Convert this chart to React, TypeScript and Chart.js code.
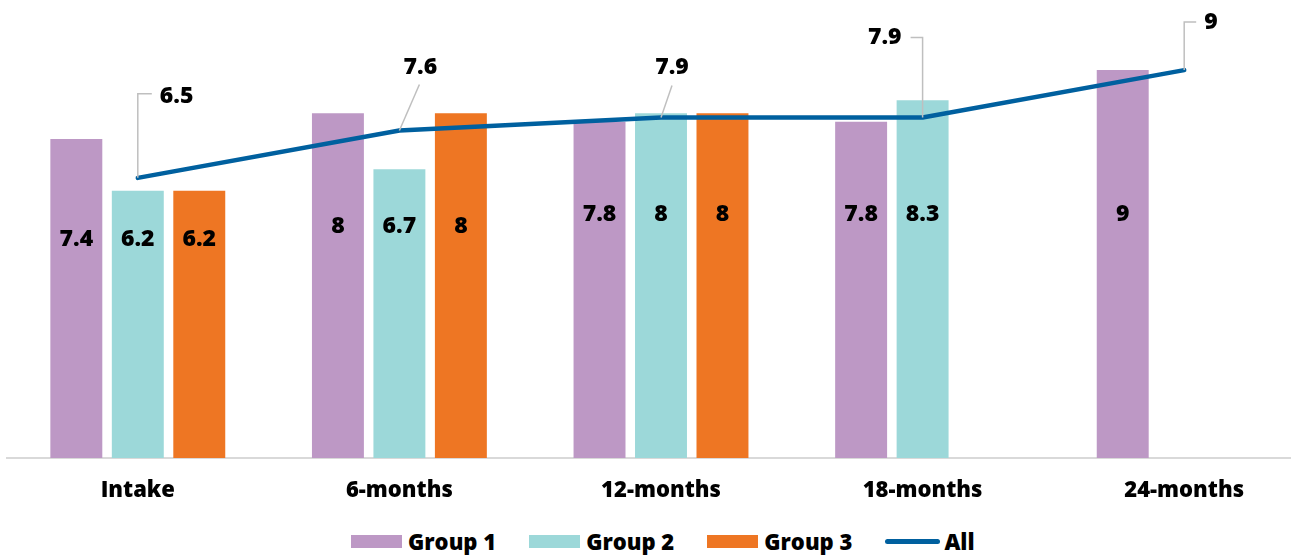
import React, { useEffect, useRef } from "react";
import { Chart, registerables } from "chart.js";

Chart.register(...registerables);

// ---- data ----
const categories = ["Intake", "6-months", "12-months", "18-months", "24-months"];
const group1 = [7.4, 8, 7.8, 7.8, 9];
const group2: (number | null)[] = [6.2, 6.7, 8, 8.3, null];
const group3: (number | null)[] = [6.2, 8, 8, null, null];
const allGroups = [6.5, 7.6, 7.9, 7.9, 9];

// ---- styling ----
const FONT = "'Open Sans', 'DejaVu Sans', sans-serif";
const WEIGHT = 800;
const COLORS = {
  group1: "#BD98C5",
  group2: "#9CD8D9",
  group3: "#EE7623",
  all: "#00609F",
  leader: "#BFBFBF",
  axis: "#D9D9D9",
  text: "#000000",
};

// height (in axis units) at which the in-bar value labels sit, per category
const barLabelLevel = [5.08, 5.38, 5.64, 5.64, 5.64];

// callout geometry for the "All" line labels, in px relative to each point
type Callout = {
  path: [number, number][];
  text: [number, number];
  align: CanvasTextAlign;
};
const callouts: Callout[] = [
  { path: [[0, 0], [0, -84], [14, -84]], text: [22, -81], align: "left" },
  { path: [[0, 0], [20, -46]], text: [21, -63], align: "center" },
  { path: [[0, 0], [11, -32]], text: [11, -50], align: "center" },
  { path: [[0, 0], [0, -80], [-12, -80]], text: [-21, -80], align: "right" },
  { path: [[0, 0], [0, -48], [12, -48]], text: [20, -48], align: "left" },
];

const labelPlugin = {
  id: "valueLabels",
  afterDatasetsDraw(chart: any) {
    const ctx: CanvasRenderingContext2D = chart.ctx;
    const yScale = chart.scales.y;
    ctx.save();
    ctx.font = `${WEIGHT} 23px ${FONT}`;
    ctx.fillStyle = COLORS.text;
    ctx.textBaseline = "middle";

    chart.data.datasets.forEach((ds: any, di: number) => {
      const meta = chart.getDatasetMeta(di);
      if (ds.type === "bar") {
        ctx.textAlign = "center";
        meta.data.forEach((el: any, i: number) => {
          const v = ds.data[i];
          if (v == null) return;
          ctx.fillText(String(v), el.x, yScale.getPixelForValue(barLabelLevel[i]));
        });
      } else if (ds.type === "line") {
        meta.data.forEach((pt: any, i: number) => {
          const c = callouts[i];
          if (!c) return;
          ctx.strokeStyle = COLORS.leader;
          ctx.lineWidth = 1.5;
          ctx.beginPath();
          c.path.forEach(([dx, dy], k) => {
            if (k === 0) ctx.moveTo(pt.x + dx, pt.y + dy);
            else ctx.lineTo(pt.x + dx, pt.y + dy);
          });
          ctx.stroke();
          ctx.textAlign = c.align;
          ctx.fillText(String(ds.data[i]), pt.x + c.text[0], pt.y + c.text[1]);
        });
      }
    });
    ctx.restore();
  },
};

const legendItems = [
  { label: "Group 1", color: COLORS.group1, kind: "box" },
  { label: "Group 2", color: COLORS.group2, kind: "box" },
  { label: "Group 3", color: COLORS.group3, kind: "box" },
  { label: "All", color: COLORS.all, kind: "line" },
];

export default function App() {
  const canvasRef = useRef<HTMLCanvasElement | null>(null);

  useEffect(() => {
    if (!canvasRef.current) return;
    const barCommon = {
      type: "bar" as const,
      categoryPercentage: 0.705,
      barPercentage: 0.845,
      borderWidth: 0,
      order: 1,
    };
    const chart = new Chart(canvasRef.current, {
      type: "bar",
      data: {
        labels: categories,
        datasets: [
          { ...barCommon, label: "Group 1", data: group1, backgroundColor: COLORS.group1 },
          { ...barCommon, label: "Group 2", data: group2, backgroundColor: COLORS.group2 },
          { ...barCommon, label: "Group 3", data: group3, backgroundColor: COLORS.group3 },
          {
            type: "line" as const,
            label: "All",
            data: allGroups,
            borderColor: COLORS.all,
            backgroundColor: COLORS.all,
            borderWidth: 4.5,
            pointRadius: 0,
            pointHoverRadius: 0,
            borderCapStyle: "round",
            borderJoinStyle: "round",
            tension: 0,
            order: 0,
          } as any,
        ],
      },
      options: {
        responsive: false,
        animation: false,
        layout: { padding: { left: 7, top: 27, right: 0, bottom: 0 } },
        plugins: {
          legend: { display: false },
          tooltip: { enabled: false },
        },
        scales: {
          x: {
            offset: true,
            grid: { display: false },
            border: { display: true, color: COLORS.axis, width: 2 },
            ticks: {
              color: COLORS.text,
              font: { family: FONT, size: 22, weight: WEIGHT as any },
              padding: 12,
              maxRotation: 0,
              autoSkip: false,
            },
            afterFit: (scale: any) => {
              scale.height = 60;
            },
          },
          y: { display: false, min: 0, max: 10 },
        },
      },
      plugins: [labelPlugin],
    });
    return () => chart.destroy();
  }, []);

  return (
    <div
      style={{
        position: "fixed",
        left: 0,
        top: 0,
        width: 1291,
        height: 555,
        overflow: "hidden",
        background: "#fff",
      }}
    >
      <canvas
        ref={canvasRef}
        width={1315}
        height={518}
        style={{ position: "absolute", left: 0, top: 0, width: 1315, height: 518 }}
      />
      <div
        style={{
          position: "absolute",
          left: 351,
          top: 529,
          height: 24,
          display: "flex",
          alignItems: "center",
          gap: 33,
          fontFamily: FONT,
          fontWeight: WEIGHT,
          fontSize: 22,
          color: COLORS.text,
          whiteSpace: "nowrap",
        }}
      >
        {legendItems.map((it) => (
          <div key={it.label} style={{ display: "flex", alignItems: "center" }}>
            {it.kind === "box" ? (
              <span
                style={{ display: "inline-block", width: 51, height: 13, background: it.color, marginRight: 6 }}
              />
            ) : (
              <span
                style={{
                  display: "inline-block",
                  width: 55,
                  height: 5,
                  borderRadius: 3,
                  background: it.color,
                  marginRight: 4,
                }}
              />
            )}
            <span style={{ lineHeight: "24px" }}>{it.label}</span>
          </div>
        ))}
      </div>
    </div>
  );
}
